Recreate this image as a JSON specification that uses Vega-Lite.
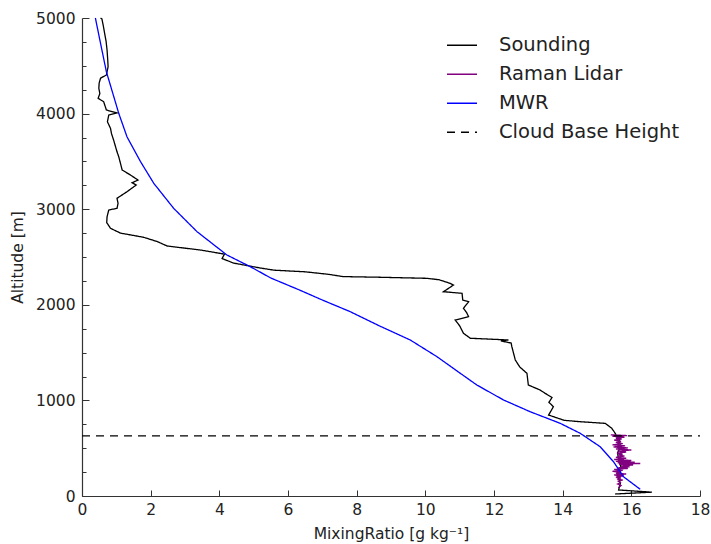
{
  "$schema": "https://vega.github.io/schema/vega-lite/v6.json",
  "width": 618,
  "height": 478,
  "autosize": {"type": "none"},
  "padding": {"left": 82, "top": 18, "right": 11, "bottom": 48},
  "background": "white",
  "config": {
    "view": {"stroke": null},
    "font": "DejaVu Sans",
    "axis": {"grid": false, "domainColor": "#333333", "tickColor": "#333333", "labelColor": "#222222", "titleColor": "#222222", "labelFont": "DejaVu Sans", "titleFont": "DejaVu Sans", "labelFontSize": 15.5, "titleFontSize": 15.5, "titleFontWeight": "normal", "domainWidth": 1.2, "tickWidth": 1}
  },
  "datasets": {
    "profiles": [
      {"s": "Sounding", "x": 0.54, "alt": 5000},
      {"s": "Sounding", "x": 0.58, "alt": 4990},
      {"s": "Sounding", "x": 0.62, "alt": 4920},
      {"s": "Sounding", "x": 0.65, "alt": 4857},
      {"s": "Sounding", "x": 0.70, "alt": 4760},
      {"s": "Sounding", "x": 0.73, "alt": 4665},
      {"s": "Sounding", "x": 0.75, "alt": 4560},
      {"s": "Sounding", "x": 0.76, "alt": 4490},
      {"s": "Sounding", "x": 0.71, "alt": 4404},
      {"s": "Sounding", "x": 0.54, "alt": 4370},
      {"s": "Sounding", "x": 0.50, "alt": 4320},
      {"s": "Sounding", "x": 0.49, "alt": 4265},
      {"s": "Sounding", "x": 0.52, "alt": 4210},
      {"s": "Sounding", "x": 0.47, "alt": 4160},
      {"s": "Sounding", "x": 0.63, "alt": 4125},
      {"s": "Sounding", "x": 0.71, "alt": 4038},
      {"s": "Sounding", "x": 1.02, "alt": 4006},
      {"s": "Sounding", "x": 0.78, "alt": 3985},
      {"s": "Sounding", "x": 0.74, "alt": 3915},
      {"s": "Sounding", "x": 0.83, "alt": 3846},
      {"s": "Sounding", "x": 0.86, "alt": 3790},
      {"s": "Sounding", "x": 0.92, "alt": 3724},
      {"s": "Sounding", "x": 0.98, "alt": 3650},
      {"s": "Sounding", "x": 1.02, "alt": 3600},
      {"s": "Sounding", "x": 1.07, "alt": 3549},
      {"s": "Sounding", "x": 1.12, "alt": 3480},
      {"s": "Sounding", "x": 1.17, "alt": 3410},
      {"s": "Sounding", "x": 1.41, "alt": 3358},
      {"s": "Sounding", "x": 1.63, "alt": 3305},
      {"s": "Sounding", "x": 1.46, "alt": 3277},
      {"s": "Sounding", "x": 1.58, "alt": 3253},
      {"s": "Sounding", "x": 1.31, "alt": 3183},
      {"s": "Sounding", "x": 1.02, "alt": 3114},
      {"s": "Sounding", "x": 1.05, "alt": 3060},
      {"s": "Sounding", "x": 1.02, "alt": 3009},
      {"s": "Sounding", "x": 0.78, "alt": 2992},
      {"s": "Sounding", "x": 0.73, "alt": 2921},
      {"s": "Sounding", "x": 0.72, "alt": 2860},
      {"s": "Sounding", "x": 0.83, "alt": 2800},
      {"s": "Sounding", "x": 1.12, "alt": 2750},
      {"s": "Sounding", "x": 1.80, "alt": 2706},
      {"s": "Sounding", "x": 2.20, "alt": 2660},
      {"s": "Sounding", "x": 2.48, "alt": 2615},
      {"s": "Sounding", "x": 3.45, "alt": 2573},
      {"s": "Sounding", "x": 4.15, "alt": 2530},
      {"s": "Sounding", "x": 4.08, "alt": 2484},
      {"s": "Sounding", "x": 4.41, "alt": 2437},
      {"s": "Sounding", "x": 5.19, "alt": 2385},
      {"s": "Sounding", "x": 5.60, "alt": 2362},
      {"s": "Sounding", "x": 6.50, "alt": 2345},
      {"s": "Sounding", "x": 7.20, "alt": 2318},
      {"s": "Sounding", "x": 7.60, "alt": 2295},
      {"s": "Sounding", "x": 8.69, "alt": 2288},
      {"s": "Sounding", "x": 10.05, "alt": 2277},
      {"s": "Sounding", "x": 10.40, "alt": 2262},
      {"s": "Sounding", "x": 10.72, "alt": 2225},
      {"s": "Sounding", "x": 10.82, "alt": 2207},
      {"s": "Sounding", "x": 10.53, "alt": 2137},
      {"s": "Sounding", "x": 11.07, "alt": 2120},
      {"s": "Sounding", "x": 11.09, "alt": 2050},
      {"s": "Sounding", "x": 11.26, "alt": 2032},
      {"s": "Sounding", "x": 11.11, "alt": 1963},
      {"s": "Sounding", "x": 11.20, "alt": 1920},
      {"s": "Sounding", "x": 11.26, "alt": 1876},
      {"s": "Sounding", "x": 10.87, "alt": 1841},
      {"s": "Sounding", "x": 11.00, "alt": 1780},
      {"s": "Sounding", "x": 11.11, "alt": 1702},
      {"s": "Sounding", "x": 11.31, "alt": 1650},
      {"s": "Sounding", "x": 12.42, "alt": 1632},
      {"s": "Sounding", "x": 12.20, "alt": 1622},
      {"s": "Sounding", "x": 12.50, "alt": 1600},
      {"s": "Sounding", "x": 12.52, "alt": 1562},
      {"s": "Sounding", "x": 12.62, "alt": 1423},
      {"s": "Sounding", "x": 12.75, "alt": 1350},
      {"s": "Sounding", "x": 12.96, "alt": 1283},
      {"s": "Sounding", "x": 13.00, "alt": 1161},
      {"s": "Sounding", "x": 13.34, "alt": 1109},
      {"s": "Sounding", "x": 13.49, "alt": 1074},
      {"s": "Sounding", "x": 13.69, "alt": 1030},
      {"s": "Sounding", "x": 13.60, "alt": 980},
      {"s": "Sounding", "x": 13.73, "alt": 934},
      {"s": "Sounding", "x": 13.59, "alt": 847},
      {"s": "Sounding", "x": 14.04, "alt": 792},
      {"s": "Sounding", "x": 14.51, "alt": 777},
      {"s": "Sounding", "x": 15.24, "alt": 760},
      {"s": "Sounding", "x": 15.43, "alt": 708},
      {"s": "Sounding", "x": 15.53, "alt": 656},
      {"s": "Sounding", "x": 15.58, "alt": 620},
      {"s": "Sounding", "x": 15.66, "alt": 570},
      {"s": "Sounding", "x": 15.68, "alt": 516},
      {"s": "Sounding", "x": 15.60, "alt": 450},
      {"s": "Sounding", "x": 15.63, "alt": 377},
      {"s": "Sounding", "x": 15.70, "alt": 300},
      {"s": "Sounding", "x": 15.58, "alt": 237},
      {"s": "Sounding", "x": 15.68, "alt": 133},
      {"s": "Sounding", "x": 15.63, "alt": 63},
      {"s": "Sounding", "x": 16.60, "alt": 40},
      {"s": "Sounding", "x": 15.53, "alt": 21},
      {"s": "Raman Lidar", "x": 15.40, "alt": 640},
      {"s": "Raman Lidar", "x": 15.88, "alt": 632},
      {"s": "Raman Lidar", "x": 15.45, "alt": 625},
      {"s": "Raman Lidar", "x": 15.80, "alt": 615},
      {"s": "Raman Lidar", "x": 15.55, "alt": 605},
      {"s": "Raman Lidar", "x": 15.72, "alt": 595},
      {"s": "Raman Lidar", "x": 15.50, "alt": 585},
      {"s": "Raman Lidar", "x": 15.70, "alt": 572},
      {"s": "Raman Lidar", "x": 15.55, "alt": 560},
      {"s": "Raman Lidar", "x": 15.75, "alt": 548},
      {"s": "Raman Lidar", "x": 15.45, "alt": 535},
      {"s": "Raman Lidar", "x": 15.82, "alt": 525},
      {"s": "Raman Lidar", "x": 15.48, "alt": 513},
      {"s": "Raman Lidar", "x": 15.90, "alt": 503},
      {"s": "Raman Lidar", "x": 15.55, "alt": 492},
      {"s": "Raman Lidar", "x": 16.00, "alt": 481},
      {"s": "Raman Lidar", "x": 15.60, "alt": 470},
      {"s": "Raman Lidar", "x": 15.85, "alt": 460},
      {"s": "Raman Lidar", "x": 15.58, "alt": 448},
      {"s": "Raman Lidar", "x": 15.75, "alt": 438},
      {"s": "Raman Lidar", "x": 15.62, "alt": 428},
      {"s": "Raman Lidar", "x": 15.80, "alt": 418},
      {"s": "Raman Lidar", "x": 15.55, "alt": 405},
      {"s": "Raman Lidar", "x": 15.85, "alt": 395},
      {"s": "Raman Lidar", "x": 15.50, "alt": 382},
      {"s": "Raman Lidar", "x": 16.00, "alt": 372},
      {"s": "Raman Lidar", "x": 15.55, "alt": 362},
      {"s": "Raman Lidar", "x": 16.10, "alt": 354},
      {"s": "Raman Lidar", "x": 15.60, "alt": 347},
      {"s": "Raman Lidar", "x": 16.26, "alt": 340},
      {"s": "Raman Lidar", "x": 15.65, "alt": 332},
      {"s": "Raman Lidar", "x": 16.05, "alt": 324},
      {"s": "Raman Lidar", "x": 15.70, "alt": 315},
      {"s": "Raman Lidar", "x": 15.95, "alt": 305},
      {"s": "Raman Lidar", "x": 15.62, "alt": 296},
      {"s": "Raman Lidar", "x": 15.90, "alt": 288},
      {"s": "Raman Lidar", "x": 15.50, "alt": 278},
      {"s": "Raman Lidar", "x": 15.75, "alt": 268},
      {"s": "Raman Lidar", "x": 15.45, "alt": 258},
      {"s": "Raman Lidar", "x": 15.70, "alt": 250},
      {"s": "Raman Lidar", "x": 15.55, "alt": 240},
      {"s": "Raman Lidar", "x": 15.85, "alt": 230},
      {"s": "Raman Lidar", "x": 15.50, "alt": 220},
      {"s": "Raman Lidar", "x": 15.78, "alt": 210},
      {"s": "Raman Lidar", "x": 15.55, "alt": 198},
      {"s": "Raman Lidar", "x": 15.70, "alt": 188},
      {"s": "Raman Lidar", "x": 15.58, "alt": 178},
      {"s": "Raman Lidar", "x": 15.75, "alt": 167},
      {"s": "Raman Lidar", "x": 15.62, "alt": 155},
      {"s": "Raman Lidar", "x": 15.68, "alt": 140},
      {"s": "Raman Lidar", "x": 15.60, "alt": 125},
      {"s": "Raman Lidar", "x": 15.70, "alt": 110},
      {"s": "Raman Lidar", "x": 15.65, "alt": 95},
      {"s": "Raman Lidar", "x": 15.62, "alt": 84},
      {"s": "MWR", "x": 0.39, "alt": 5000},
      {"s": "MWR", "x": 0.54, "alt": 4735},
      {"s": "MWR", "x": 0.71, "alt": 4438},
      {"s": "MWR", "x": 1.07, "alt": 4003},
      {"s": "MWR", "x": 1.31, "alt": 3758},
      {"s": "MWR", "x": 1.70, "alt": 3500},
      {"s": "MWR", "x": 2.09, "alt": 3271},
      {"s": "MWR", "x": 2.67, "alt": 3009},
      {"s": "MWR", "x": 3.35, "alt": 2765},
      {"s": "MWR", "x": 4.22, "alt": 2521},
      {"s": "MWR", "x": 4.90, "alt": 2399},
      {"s": "MWR", "x": 5.50, "alt": 2280},
      {"s": "MWR", "x": 6.30, "alt": 2160},
      {"s": "MWR", "x": 7.00, "alt": 2050},
      {"s": "MWR", "x": 7.80, "alt": 1930},
      {"s": "MWR", "x": 8.69, "alt": 1775},
      {"s": "MWR", "x": 9.56, "alt": 1632},
      {"s": "MWR", "x": 10.34, "alt": 1457},
      {"s": "MWR", "x": 11.02, "alt": 1283},
      {"s": "MWR", "x": 11.50, "alt": 1161},
      {"s": "MWR", "x": 12.28, "alt": 1004},
      {"s": "MWR", "x": 13.05, "alt": 882},
      {"s": "MWR", "x": 13.93, "alt": 760},
      {"s": "MWR", "x": 14.51, "alt": 656},
      {"s": "MWR", "x": 15.09, "alt": 516},
      {"s": "MWR", "x": 15.48, "alt": 359},
      {"s": "MWR", "x": 15.77, "alt": 202},
      {"s": "MWR", "x": 16.26, "alt": 70},
      {"s": "Cloud Base Height", "x": 0, "alt": 628},
      {"s": "Cloud Base Height", "x": 18, "alt": 628}
    ]
  },
  "data": {"name": "profiles"},
  "mark": {"type": "line", "strokeWidth": 1.3},
  "encoding": {
    "x": {
      "field": "x", "type": "quantitative",
      "scale": {"domain": [0, 18], "nice": false, "zero": false},
      "axis": {"values": [0, 2, 4, 6, 8, 10, 12, 14, 16, 18], "tickSize": -6, "labelPadding": 12, "title": "MixingRatio [g kg⁻¹]", "titlePadding": 9, "labelFlush": false}
    },
    "y": {
      "field": "alt", "type": "quantitative",
      "scale": {"domain": [0, 5000], "nice": false},
      "axis": {"values": [0, 250, 500, 750, 1000, 1250, 1500, 1750, 2000, 2250, 2500, 2750, 3000, 3250, 3500, 3750, 4000, 4250, 4500, 4750, 5000], "format": "d", "labelExpr": "datum.value % 1000 === 0 ? datum.label : ''", "tickSize": {"condition": {"test": "datum.value % 1000 === 0", "value": -7}, "value": -4}, "labelPadding": 14, "title": "Altitude [m]", "titlePadding": 10, "labelFlush": false}
    },
    "color": {
      "field": "s", "type": "nominal",
      "scale": {"domain": ["Sounding", "Raman Lidar", "MWR", "Cloud Base Height"], "range": ["#000000", "#800080", "#0000ff", "#000000"]},
      "legend": {"orient": "none", "legendX": 364, "legendY": 13, "title": null, "symbolType": "stroke", "symbolSize": 900, "symbolStrokeWidth": 1.3, "labelFontSize": 19.5, "labelFont": "DejaVu Sans", "labelColor": "#222222", "labelOffset": 21, "labelLimit": 0, "rowPadding": 0, "clipHeight": 28.5, "padding": 0}
    },
    "strokeDash": {
      "field": "s", "type": "nominal",
      "scale": {"domain": ["Sounding", "Raman Lidar", "MWR", "Cloud Base Height"], "range": [[1, 0], [1, 0], [1, 0], [8, 6]]},
      "legend": {"orient": "none", "legendX": 364, "legendY": 13, "title": null, "symbolType": "stroke", "symbolSize": 900, "symbolStrokeWidth": 1.3, "labelFontSize": 19.5, "labelFont": "DejaVu Sans", "labelColor": "#222222", "labelOffset": 21, "labelLimit": 0, "rowPadding": 0, "clipHeight": 28.5, "padding": 0}
    },
    "detail": {"field": "s", "type": "nominal"},
    "order": {"field": "alt", "type": "quantitative"}
  }
}
